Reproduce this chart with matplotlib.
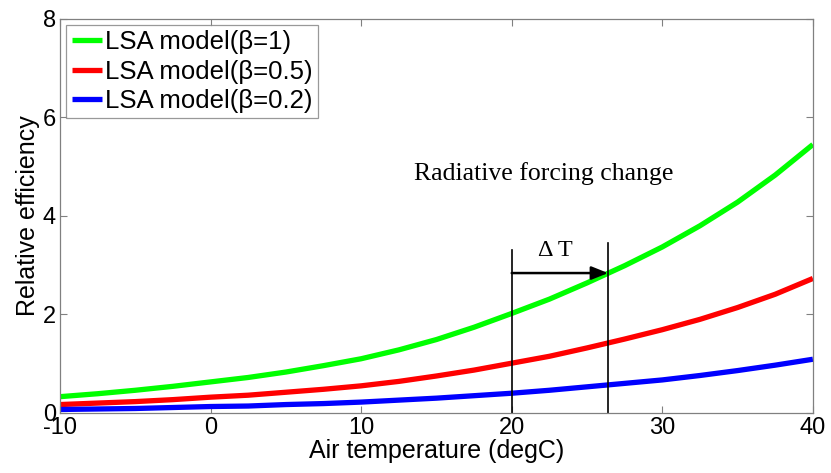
import matplotlib
matplotlib.use("Agg")
import matplotlib.pyplot as plt

# Air temperature samples (degC) and relative efficiency for each beta
temperature = [-10, -7.5, -5, -2.5, 0, 2.5, 5, 7.5, 10, 12.5, 15, 17.5,
               20, 22.5, 25, 27.5, 30, 32.5, 35, 37.5, 40]
eff_beta_1 = [0.33, 0.39, 0.46, 0.54, 0.63, 0.72, 0.83, 0.96, 1.10, 1.28, 1.49,
              1.74, 2.02, 2.31, 2.64, 2.99, 3.37, 3.80, 4.28, 4.83, 5.45]
eff_beta_05 = [0.17, 0.20, 0.23, 0.27, 0.32, 0.36, 0.42, 0.48, 0.55, 0.64, 0.75,
               0.87, 1.01, 1.15, 1.32, 1.50, 1.69, 1.90, 2.14, 2.41, 2.73]
eff_beta_02 = [0.07, 0.08, 0.09, 0.11, 0.13, 0.14, 0.17, 0.19, 0.22, 0.26, 0.30,
               0.35, 0.40, 0.46, 0.53, 0.60, 0.67, 0.76, 0.86, 0.97, 1.09]

series_labels = ["LSA model(β=1)", "LSA model(β=0.5)", "LSA model(β=0.2)"]
series_colors = ["#00ff00", "#ff0000", "#0000ff"]

x_ticks = [-10, 0, 10, 20, 30, 40]
y_ticks = [0, 2, 4, 6, 8]

# Temperature shift marker
t_start = 20
t_end = 26.4
arrow_level = 2.84

plt.rcParams["font.family"] = ["Liberation Sans", "DejaVu Sans"]
plt.rcParams["axes.unicode_minus"] = False

fig = plt.figure(figsize=(8.31, 4.73), dpi=100)
ax = fig.add_axes([0.0722, 0.127, 0.906, 0.833])

for ys, lab, col in zip([eff_beta_1, eff_beta_05, eff_beta_02], series_labels, series_colors):
    ax.plot(temperature, ys, color=col, lw=3.8, label=lab,
            solid_capstyle="butt", solid_joinstyle="round")

ax.set_xlim(-10, 40)
ax.set_ylim(0, 8)
ax.set_xticks(x_ticks)
ax.set_yticks(y_ticks)
ax.tick_params(direction="in", top=True, right=True, length=5, width=0.8,
               color="#808080", labelsize=17, pad=3)
for s in ax.spines.values():
    s.set_color("#808080")
    s.set_linewidth(0.9)

ax.set_xlabel("Air temperature (degC)", fontsize=18, labelpad=0)
ax.set_ylabel("Relative efficiency", fontsize=18, labelpad=2)

leg = ax.legend(loc="upper left", fontsize=18.5, frameon=True, fancybox=False,
                handlelength=1.2, handletextpad=0.1, borderpad=0.2,
                labelspacing=0.2, borderaxespad=0.25)
leg.get_frame().set_edgecolor("#808080")
leg.get_frame().set_linewidth(0.9)

# Vertical guides and the arrow showing the temperature shift
ax.plot([t_start, t_start], [0, 3.3], color="black", lw=1.2)
ax.plot([t_end, t_end], [0, 3.45], color="black", lw=1.2)
ax.annotate("", xy=(t_end, arrow_level), xytext=(t_start, arrow_level),
            arrowprops=dict(arrowstyle="-|>,head_length=1.0,head_width=0.4",
                            color="black", lw=1.8, shrinkA=0, shrinkB=0))
ax.text(22.9, 3.3, "Δ T", fontsize=17.5, ha="center", va="center",
        family=["Liberation Serif", "DejaVu Serif"])
ax.text(13.5, 4.87, "Radiative forcing change", fontsize=18.5, ha="left", va="center",
        family=["Liberation Serif", "DejaVu Serif"])

fig.savefig("out.png", dpi=100)
